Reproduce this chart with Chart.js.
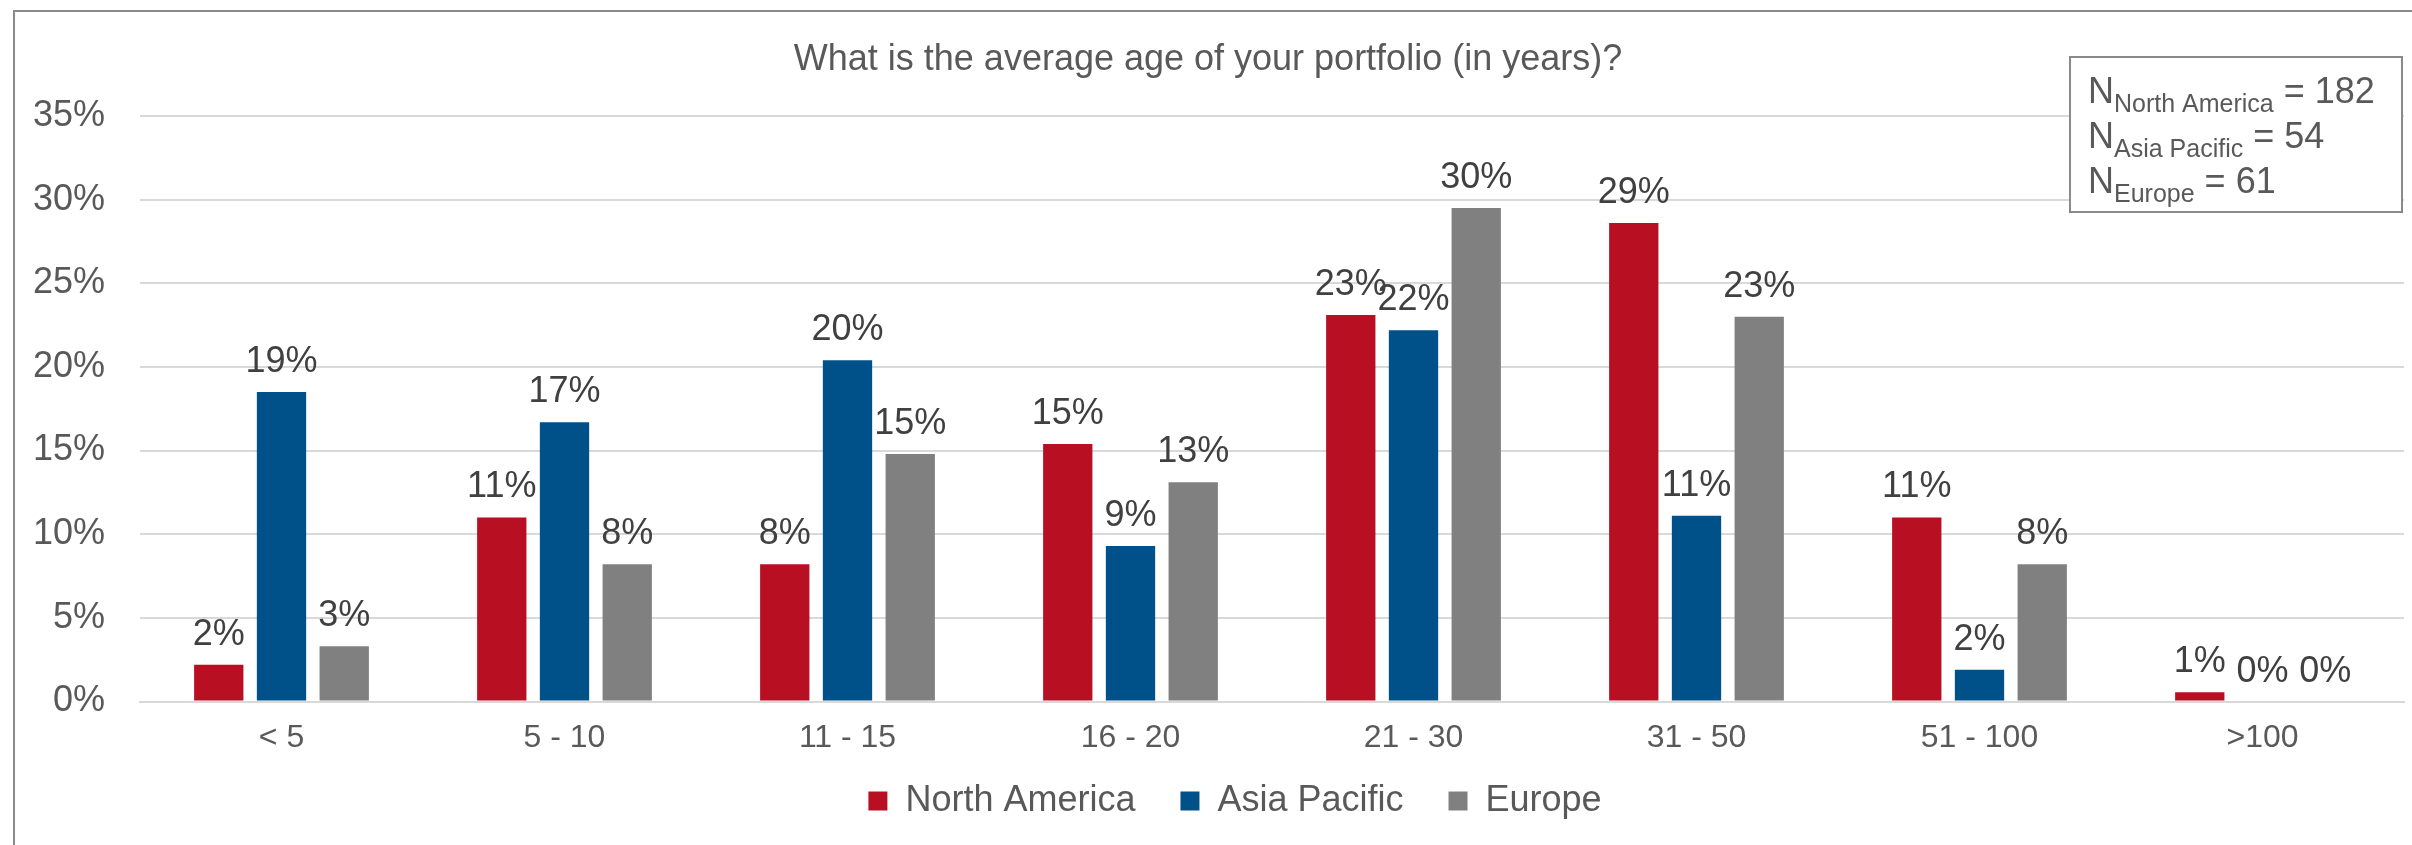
<!DOCTYPE html>
<html><head><meta charset="utf-8">
<script src="https://cdn.jsdelivr.net/npm/chart.js@4.4.1/dist/chart.umd.min.js"></script>
<style>html,body{margin:0;padding:0;background:#fff;}canvas{display:block;}</style>
</head><body>
<canvas id="c" width="2412" height="845"></canvas>
<script>
const categories = ['< 5', '5 - 10', '11 - 15', '16 - 20', '21 - 30', '31 - 50', '51 - 100', '>100'];
const seriesNames = ['North America', 'Asia Pacific', 'Europe'];
const northAmerica = [2.2, 11.0, 8.2, 15.4, 23.1, 28.6, 11.0, 0.55];
const asiaPacific = [18.5, 16.7, 20.4, 9.3, 22.2, 11.1, 1.9, 0];
const europe = [3.3, 8.2, 14.8, 13.1, 29.5, 23.0, 8.2, 0];
const sampleSizes = [182, 54, 61];
const yMin = 0, yMax = 35, yStep = 5;
const titleText = 'What is the average age of your portfolio (in years)?';

const FONT = "'Liberation Sans', Arial, sans-serif";
const colors = ['#b80f23', '#00508a', '#808080'];
const textGray = '#595959';

const framePlugin = {
  id: 'frame',
  afterLayout(chart) {
    // place the bottom legend where the reference has it
    const lg = chart.legend;
    if (lg) {
      lg.left += 33; lg.right += 33;
      lg.top -= 16; lg.bottom -= 16;
    }
  },
  beforeDraw(chart) {
    const ctx = chart.ctx;
    ctx.save();
    ctx.fillStyle = '#fff';
    ctx.fillRect(0, 0, chart.width, chart.height);
    ctx.strokeStyle = '#8a8a8a';
    ctx.lineWidth = 2;
    ctx.beginPath();
    ctx.moveTo(14, chart.height + 5);
    ctx.lineTo(14, 11);
    ctx.lineTo(chart.width + 5, 11);
    ctx.stroke();
    ctx.restore();
  },
  afterDraw(chart) {
    const ctx = chart.ctx;
    ctx.save();
    ctx.fillStyle = textGray;
    ctx.font = '36px ' + FONT;
    ctx.textAlign = 'center';
    ctx.textBaseline = 'alphabetic';
    ctx.fillText(titleText, 1208, 70);
    ctx.restore();

    // sample size box
    const bx = 2070, by = 57, bw = 332, bh = 155;
    ctx.save();
    ctx.fillStyle = '#fff';
    ctx.fillRect(bx, by, bw, bh);
    ctx.strokeStyle = '#8a8a8a';
    ctx.lineWidth = 2;
    ctx.strokeRect(bx, by, bw, bh);
    ctx.fillStyle = textGray;
    ctx.textAlign = 'left';
    ctx.textBaseline = 'alphabetic';
    const baselines = [103, 148, 193];
    seriesNames.forEach((name, i) => {
      let x = 2088;
      const y = baselines[i];
      ctx.font = '36px ' + FONT;
      ctx.fillText('N', x, y);
      x += ctx.measureText('N').width;
      ctx.font = '25px ' + FONT;
      ctx.fillText(name, x, y + 9);
      x += ctx.measureText(name).width;
      ctx.font = '36px ' + FONT;
      ctx.fillText(' = ' + sampleSizes[i], x, y);
    });
    ctx.restore();
  }
};

const dataLabelPlugin = {
  id: 'dataLabels',
  afterDatasetsDraw(chart) {
    const ctx = chart.ctx;
    ctx.save();
    ctx.fillStyle = '#404040';
    ctx.font = '36px ' + FONT;
    ctx.textAlign = 'center';
    ctx.textBaseline = 'alphabetic';
    chart.data.datasets.forEach((ds, di) => {
      const meta = chart.getDatasetMeta(di);
      meta.data.forEach((el, i) => {
        ctx.fillText(Math.round(ds.data[i]) + '%', el.x, el.y - 20);
      });
    });
    ctx.restore();
  }
};

const seriesData = [northAmerica, asiaPacific, europe];

new Chart(document.getElementById('c'), {
  type: 'bar',
  data: {
    labels: categories,
    datasets: seriesNames.map((n, i) => ({
      label: n,
      data: seriesData[i],
      backgroundColor: colors[i],
      borderWidth: 0,
      categoryPercentage: 0.665,
      barPercentage: 0.786
    }))
  },
  options: {
    responsive: false,
    devicePixelRatio: 1,
    animation: false,
    layout: { padding: { left: 0, right: 8, top: 116, bottom: 0 } },
    plugins: {
      title: { display: false },
      tooltip: { enabled: false },
      legend: {
        display: true,
        position: 'bottom',
        labels: {
          boxWidth: 19,
          boxHeight: 19,
          padding: 45,
          color: textGray,
          font: { size: 36, family: FONT }
        }
      }
    },
    scales: {
      x: {
        grid: { display: false, drawTicks: false },
        border: { display: true, color: '#d9d9d9', width: 2 },
        ticks: { color: textGray, font: { size: 32, family: FONT }, padding: 17, maxRotation: 0, autoSkip: false },
        afterFit(scale) { scale.height = 52.5; }
      },
      y: {
        min: yMin,
        max: yMax,
        grid: { color: '#d9d9d9', lineWidth: 2, drawTicks: false },
        border: { display: false },
        ticks: {
          stepSize: yStep,
          color: textGray,
          font: { size: 36, family: FONT },
          padding: 35,
          callback: v => v + '%'
        },
        afterFit(scale) { scale.width = 140; }
      }
    }
  },
  plugins: [framePlugin, dataLabelPlugin]
});
</script>
</body></html>
